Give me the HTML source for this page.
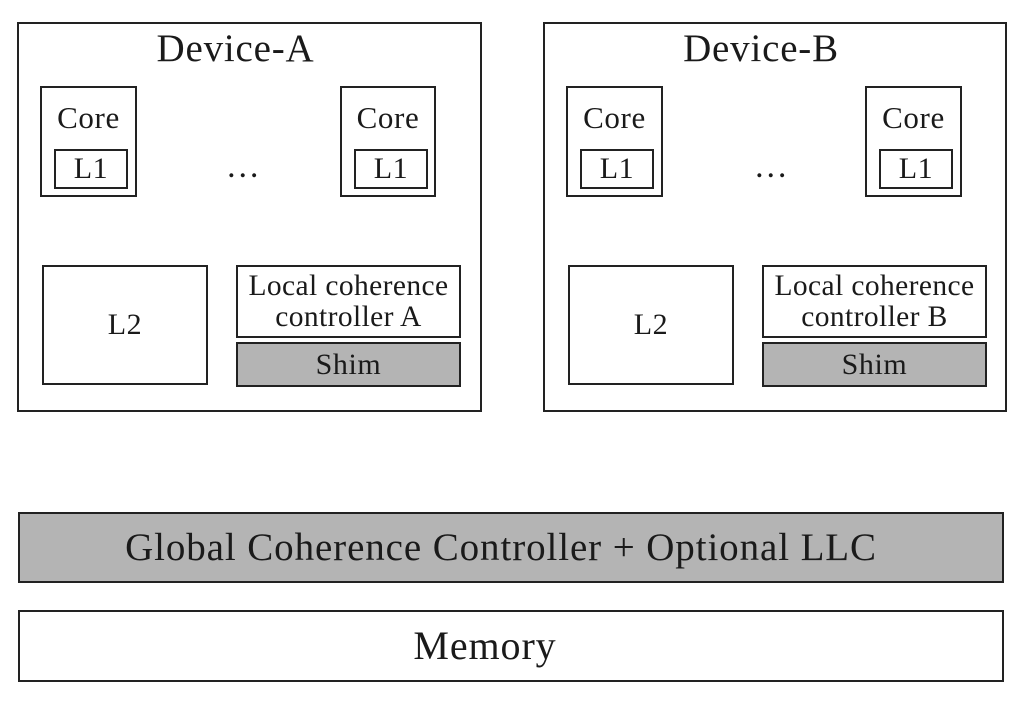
<!DOCTYPE html>
<html><head><style>
body{margin:0;width:1024px;height:702px;background:#fff;position:relative;overflow:hidden;font-family:"Liberation Serif",serif;color:#1a1a1a}
.b{position:absolute;box-sizing:border-box;border:2px solid #222;display:flex;align-items:center;justify-content:center;text-align:center;line-height:1;white-space:nowrap}
.g{background:#b4b4b4}
.t{position:absolute;font-size:31px;letter-spacing:0.6px;line-height:1;text-align:center}
.s{font-size:30px;letter-spacing:0.6px}
</style></head><body>
<!-- Device A -->
<div class="b" style="left:17px;top:22px;width:465px;height:390px"></div>
<div class="t" style="left:17px;top:29px;width:437px;font-size:39px;letter-spacing:0.8px">Device-A</div>
<div class="b" style="left:40px;top:86px;width:97px;height:111px"></div>
<div class="t" style="left:40px;top:102px;width:97px">Core</div>
<div class="b s" style="left:54px;top:149px;width:74px;height:40px">L1</div>
<div class="b" style="left:340px;top:86px;width:96px;height:111px"></div>
<div class="t" style="left:340px;top:102px;width:96px">Core</div>
<div class="b s" style="left:354px;top:149px;width:74px;height:40px">L1</div>
<div class="t" style="left:200px;top:150px;width:86px;font-size:34px">…</div>
<div class="b s" style="left:42px;top:265px;width:166px;height:120px">L2</div>
<div class="b s" style="left:236px;top:265px;width:225px;height:73px;line-height:31px;font-size:29.5px;letter-spacing:0.4px">Local coherence<br>controller A</div>
<div class="b g s" style="left:236px;top:342px;width:225px;height:45px">Shim</div>
<!-- Device B -->
<div class="b" style="left:543px;top:22px;width:464px;height:390px"></div>
<div class="t" style="left:543px;top:29px;width:436px;font-size:39px;letter-spacing:0.8px">Device-B</div>
<div class="b" style="left:566px;top:86px;width:97px;height:111px"></div>
<div class="t" style="left:566px;top:102px;width:97px">Core</div>
<div class="b s" style="left:580px;top:149px;width:74px;height:40px">L1</div>
<div class="b" style="left:865px;top:86px;width:97px;height:111px"></div>
<div class="t" style="left:865px;top:102px;width:97px">Core</div>
<div class="b s" style="left:879px;top:149px;width:74px;height:40px">L1</div>
<div class="t" style="left:728px;top:150px;width:86px;font-size:34px">…</div>
<div class="b s" style="left:568px;top:265px;width:166px;height:120px">L2</div>
<div class="b s" style="left:762px;top:265px;width:225px;height:73px;line-height:31px;font-size:29.5px;letter-spacing:0.4px">Local coherence<br>controller B</div>
<div class="b g s" style="left:762px;top:342px;width:225px;height:45px">Shim</div>
<!-- bottom -->
<div class="b g" style="left:18px;top:512px;width:986px;height:71px;font-size:39px;letter-spacing:0.9px;padding-right:20px">Global Coherence Controller + Optional LLC</div>
<div class="b" style="left:18px;top:610px;width:986px;height:72px;font-size:40px;letter-spacing:0.9px;padding-right:52px">Memory</div>
</body></html>
